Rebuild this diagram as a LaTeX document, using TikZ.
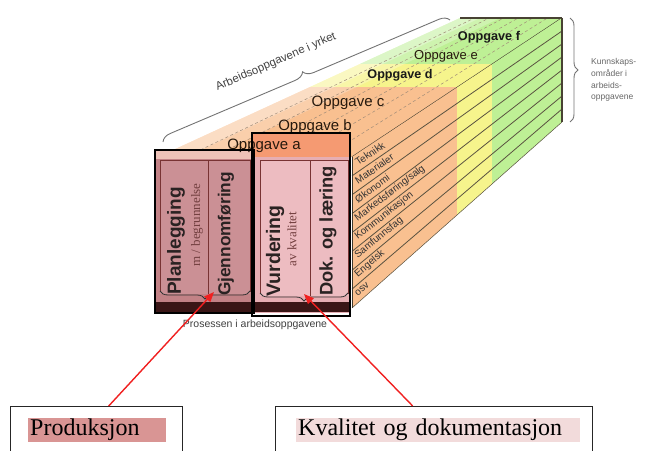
\documentclass[tikz,border=0pt]{standalone}
\usepackage{fontspec}
\setmainfont{Liberation Serif}
\setsansfont{Liberation Sans}
\usetikzlibrary{decorations.pathreplacing,arrows.meta}
\definecolor{orng}{HTML}{F9C090}
\definecolor{yel}{HTML}{F6F48C}
\definecolor{grn}{HTML}{BEF095}
\definecolor{roseL}{HTML}{C28286}
\definecolor{roseC}{HTML}{CB9095}
\definecolor{peach}{HTML}{EDC2B8}
\definecolor{salmon}{HTML}{F59A72}
\definecolor{pinkR}{HTML}{E6AEB3}
\definecolor{pinkC}{HTML}{EDBCC1}
\definecolor{bandc}{HTML}{3A1616}
\definecolor{prodhl}{HTML}{D99594}
\definecolor{kvalhl}{HTML}{F2DBDB}
\definecolor{klinec}{HTML}{5A5240}
\definecolor{txtd}{HTML}{2A2222}
\definecolor{arrred}{HTML}{F02020}
\definecolor{dashc}{HTML}{A08C78}
\begin{document}
\begin{tikzpicture}[x=1pt,y=-1pt,
  tdash/.style={dashc, line width=0.5pt, dash pattern=on 3pt off 2.5pt},
  kln/.style={klinec, line width=0.8pt},
  edgeln/.style={klinec!80!black, line width=1.1pt},
  colbd/.style={draw=black!55!red!60!gray, line width=0.6pt},
  bracest/.style={decorate, decoration={brace, amplitude=#1}},
  rectbd/.style={draw=black, line width=1.4pt},
  coltxt/.style={font=\sffamily\bfseries\fontsize{#1}{#1}\selectfont, text=txtd, rotate=90, inner sep=0pt},
  smalltxt/.style={font=\fontsize{13}{13}\selectfont, text=black!60!red!50!gray, rotate=90, inner sep=0pt},
  klabel/.style={font=\sffamily\fontsize{10}{10}\selectfont, text=black!80, inner sep=0pt, anchor=west},
  opg/.style={font=\sffamily\fontsize{#1}{#1}\selectfont, text=black!80!brown, inner sep=0pt},
  opgb/.style={font=\sffamily\bfseries\fontsize{#1}{#1}\selectfont, text=black!90, inner sep=0pt},
  boxst/.style={draw=black!85, line width=1.4pt, fill=white},
  hl/.style={anchor=west, inner xsep=2pt, inner ysep=0pt, minimum height=24pt, align=left, font=\fontsize{24}{26}\selectfont},
  redarrow/.style={arrred, line width=1.4pt, -{Triangle[length=10pt,width=8pt]}}
]
\useasboundingbox (0,0) rectangle (647,450);
\clip (0,0) rectangle (647,450);

% ---------- top face ----------
\begin{scope}
\clip (158,157) -- (352,157) -- (562,18) -- (460,18) -- cycle;
\fill[orng] (150,87) rectangle (570,160);
\fill[yel] (150,64) rectangle (570,87);
\fill[grn] (150,10) rectangle (570,64);
\fill[white, opacity=0.25] (150,160) -- (460,18) -- (500,18) -- (205,160) -- cycle;
\fill[white, opacity=0.3] (150,160) -- (460,18) -- (480,18) -- (180,160) -- cycle;
\foreach \k in {1,...,6}
  \draw[tdash] ({158+\k*194/7},157) -- ({460+\k*102/7},18);
\end{scope}
\draw[edgeln] (352,157) -- (562,18);
\draw[edgeln] (460,18) -- (562,18);

% ---------- right face ----------
\begin{scope}
\clip (352,157) -- (562,18) -- (562,122) -- (352,308) -- cycle;
\fill[orng] (345,10) rectangle (457,320);
\fill[yel] (457,10) rectangle (492,320);
\fill[grn] (492,10) rectangle (570,320);
\end{scope}
\foreach \j in {1,...,7}
  \draw[kln] (352,{157+\j*151/8}) -- (562,{18+\j*13});
\draw[kln, line width=0.5pt] (352,308) -- (562,122);
\draw[edgeln, line width=1.6pt] (562,18) -- (562,122);

\foreach \t [count=\i from 0] in {Teknikk,Materialer,Økonomi,Markedsføring/salg,Kommunikasjon,Samfunnsfag,Engelsk,osv} {
  \pgfmathsetmacro\dy{139+(\i+0.5)*5.875}
  \pgfmathsetmacro\ang{atan(\dy/210)}
  \pgfmathsetmacro\yy{157+(\i+0.5)*18.875-5*\dy/210}
  \node[klabel, rotate=\ang] (kl\i) at (356,\yy) {\t};
}

% ---------- front face ----------
\fill[roseL] (155,150) rectangle (254,313);
\fill[peach] (155,150) rectangle (254,159);
\fill[salmon] (252,133) rectangle (350,157);
\fill[pinkR] (252,157) rectangle (350,313);
\fill[roseC] (160,160) rectangle (250,294);
\fill[pinkC] (260,160) rectangle (348,296);
\fill[bandc] (155,302) rectangle (351,312);
% columns
\draw[colbd] (160,292) -- (160,160) -- (250,160) -- (250,292);
\draw[colbd] (208,160) -- (208,294);
\draw[colbd] (260,294) -- (260,160) -- (348,160) -- (348,294);
\draw[colbd] (310,160) -- (310,296);
\draw[bracest=8pt, draw=black!80, line width=0.8pt] (250,291) -- (160,291);
\draw[bracest=8pt, draw=black!80, line width=0.8pt] (348,293) -- (260,293);

% labels on top face
\node[opg=15] (oa) at (264,146) {Oppgave a};
\node[opg=15] (ob) at (315,127) {Oppgave b};
\node[opg=15] (oc) at (348,103) {Oppgave c};
\node[opgb=12.6] (od) at (400,75) {Oppgave d};
\node[opg=13] (oe) at (446,56) {Oppgave e};
\node[opgb=12.7] (of) at (489,37) {Oppgave f};

% column texts
\node[coltxt=19] (plan) at (176,241) {Planlegging};
\node[smalltxt] (begr) at (197,225) {m / begrunnelse};
\node[coltxt=17.3] (gjen) at (226,234) {Gjennomføring};
\node[coltxt=19.5] (vurd) at (275,251) {Vurdering};
\node[smalltxt] (kval2) at (292,239) {av kvalitet};
\node[coltxt=18.3] (dok) at (328,231) {Dok. og læring};

% rectangles
\draw[rectbd] (155,150) rectangle (254,313);
\draw[rectbd] (252,133) rectangle (350,316);
\draw[klinec!70!black, line width=1pt] (352,157) -- (352,308);

% braces and side texts
\draw[bracest=10pt, draw=black!55, line width=0.9pt] (163,142) -- (450,20);
\node[font=\sffamily\fontsize{11.5}{11.5}\selectfont, text=black!75, rotate=23.5] (arbt) at (276,62) {Arbeidsoppgavene i yrket};
\draw[bracest=8pt, draw=black!55, line width=0.9pt] (570,18) -- (570,122);
\node[font=\sffamily\fontsize{8.5}{11.7}\selectfont, text=black!60, anchor=west, align=left, inner sep=0pt] (kunn) at (591,80) {Kunnskaps-\\områder i\\arbeids-\\oppgavene};
\node[font=\sffamily\fontsize{10.5}{10.5}\selectfont, text=black!75] (pros) at (255,325) {Prosessen i arbeidsoppgavene};

% ---------- bottom boxes ----------
\node[boxst, anchor=north west, minimum width=172pt, minimum height=60pt] (prod) at (10,406) {};
\node[hl, fill=prodhl, text width=134pt] (prodt) at (28,430) {Produksjon};
\node[boxst, anchor=north west, minimum width=317pt, minimum height=60pt] (kval) at (275,406) {};
\node[hl, fill=kvalhl, text width=280pt] (kvalt) at (296,430) {Kvalitet og dokumentasjon};

\coordinate (tipL) at (214,292);
\coordinate (tipR) at (304,294);
\draw[redarrow] ([xshift=12pt]prod.north) -- (tipL);
\draw[redarrow] ([xshift=-21.5pt]kval.north) -- (tipR);
\end{tikzpicture}
\end{document}
